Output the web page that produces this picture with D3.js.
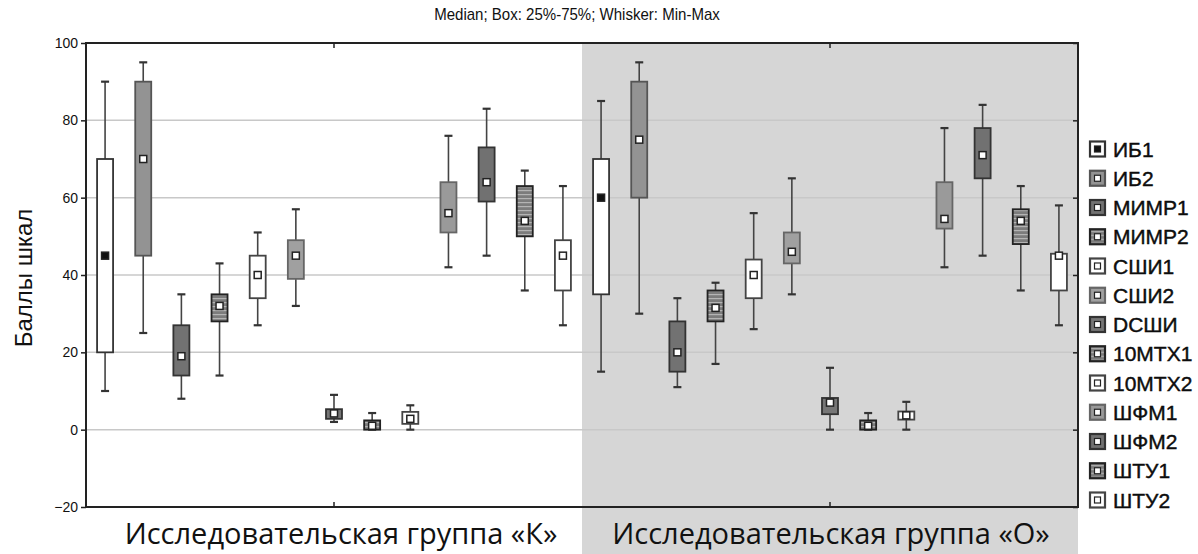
<!DOCTYPE html>
<html>
<head>
<meta charset="utf-8">
<script src="https://cdn.jsdelivr.net/npm/d3@7"></script>
<style>
  body { margin: 0; background: #fff; }
  text { font-family: Arial, "Liberation Sans", sans-serif; fill: #111; }
</style>
</head>
<body>
<script>
const width = 1198, height = 554;
const title = 'Median; Box: 25%-75%; Whisker: Min-Max';
const yAxisLabel = 'Баллы шкал';

const series = ['ИБ1', 'ИБ2', 'МИМР1', 'МИМР2', 'СШИ1', 'СШИ2', 'DCШИ', '10MTX1', '10MTX2', 'ШФМ1', 'ШФМ2', 'ШТУ1', 'ШТУ2'];
const groups = ['Исследовательская группа «К»', 'Исследовательская группа «О»'];
const yTicks = [-20, 0, 20, 40, 60, 80, 100];

// group K
const minK = [10, 25, 8, 14, 27, 32, 2, 0, 0, 42, 45, 36, 27];
const q1K  = [20, 45, 14, 28, 34, 39, 2.8, 0, 1.5, 51, 59, 50, 36];
const medK = [45, 70, 19, 32, 40, 45, 4.2, 1, 2.8, 56, 64, 54, 45];
const q3K  = [70, 90, 27, 35, 45, 49, 5.3, 2.4, 4.6, 64, 73, 63, 49];
const maxK = [90, 95, 35, 43, 51, 57, 9, 4.3, 6.3, 76, 83, 67, 63];

// group O
const minO = [15, 30, 11, 17, 26, 35, 0, 0, 0, 42, 45, 36, 27];
const q1O  = [35, 60, 15, 28, 34, 43, 4, 0, 2.6, 52, 65, 48, 36];
const medO = [60, 75, 20, 31.5, 40, 46, 7, 1, 3.7, 54.5, 71, 54, 45];
const q3O  = [70, 90, 28, 36, 44, 51, 8.2, 2.4, 4.7, 64, 78, 57, 45.5];
const maxO = [85, 95, 34, 38, 56, 65, 16, 4.3, 7.2, 78, 84, 63, 58];

// box looks per series
const boxFill   = ['#ffffff', '#939393', '#727272', 'url(#stripes)', '#ffffff', '#a0a0a0', '#767676', 'url(#stripes)', '#ffffff', '#9a9a9a', '#717171', 'url(#stripes)', '#ffffff'];
const boxStroke = ['#333', '#555', '#333', '#222', '#444', '#666', '#333', '#222', '#444', '#666', '#333', '#222', '#444'];

const plotLeft = 86, plotRight = 1078, plotTop = 43, plotBottom = 507;

const svg = d3.select('body').append('svg')
    .attr('width', width)
    .attr('height', height);

const defs = svg.append('defs');
const pat = defs.append('pattern')
    .attr('id', 'stripes')
    .attr('width', 4).attr('height', 4)
    .attr('patternUnits', 'userSpaceOnUse');
pat.append('rect').attr('width', 4).attr('height', 4).attr('fill', '#7c7c7c');
pat.append('rect').attr('y', 2).attr('width', 4).attr('height', 1.2).attr('fill', '#b4b4b4');

const yScale = d3.scaleLinear().domain([-20, 100]).range([plotBottom, plotTop]);
const xGroup = d3.scaleBand().domain(groups).range([plotLeft, plotRight]);
const xInner = d3.scaleBand().domain(series).range([0, xGroup.bandwidth()]);

const boxW = 16, capW = 8;

// gray background of the second group
svg.append('rect')
    .attr('x', xGroup(groups[1]))
    .attr('y', plotTop + 1)
    .attr('width', plotRight - xGroup(groups[1]))
    .attr('height', height - plotTop)
    .attr('fill', '#d6d6d6');

// gridlines
svg.append('g').selectAll('line')
    .data(yTicks.filter(d => d > -20 && d < 100))
    .join('line')
    .attr('x1', plotLeft).attr('x2', plotRight)
    .attr('y1', d => yScale(d)).attr('y2', d => yScale(d))
    .attr('stroke', '#c8c8c8')
    .attr('stroke-width', 1.5);

// left axis
svg.append('g')
    .attr('transform', `translate(${plotLeft},0)`)
    .call(d3.axisLeft(yScale).tickValues(yTicks).tickSize(5).tickPadding(3))
    .call(g => g.select('.domain').remove())
    .call(g => g.selectAll('line').attr('stroke', '#222').attr('stroke-width', 1.5))
    .call(g => g.selectAll('text').attr('font-size', 14).attr('fill', '#111'));

// right ticks (inward)
svg.append('g')
    .attr('transform', `translate(${plotRight},0)`)
    .call(d3.axisLeft(yScale).tickValues(yTicks).tickSize(5).tickFormat(''))
    .call(g => g.select('.domain').remove())
    .call(g => g.selectAll('line').attr('stroke', '#222').attr('stroke-width', 1.5));

// frame
svg.append('rect')
    .attr('x', plotLeft).attr('y', plotTop)
    .attr('width', plotRight - plotLeft).attr('height', plotBottom - plotTop)
    .attr('fill', 'none')
    .attr('stroke', '#222')
    .attr('stroke-width', 2);

// group ticks top and bottom
groups.forEach(g => {
    const cx = xGroup(g) + xGroup.bandwidth() / 2;
    svg.append('line').attr('x1', cx).attr('x2', cx).attr('y1', plotTop).attr('y2', plotTop + 5)
        .attr('stroke', '#222').attr('stroke-width', 1.5);
    svg.append('line').attr('x1', cx).attr('x2', cx).attr('y1', plotBottom).attr('y2', plotBottom - 5)
        .attr('stroke', '#222').attr('stroke-width', 1.5);
});

// build box data
const boxData = [];
const groupVals = [[minK, q1K, medK, q3K, maxK], [minO, q1O, medO, q3O, maxO]];
groups.forEach((g, gi) => {
    const [mn, q1, md, q3, mx] = groupVals[gi];
    series.forEach((s, i) => {
        boxData.push({
            group: g, name: s, i: i,
            min: mn[i], q1: q1[i], med: md[i], q3: q3[i], max: mx[i]
        });
    });
});

const cxOf = d => xGroup(d.group) + xInner(d.name) + xInner.bandwidth() / 2;

const box = svg.append('g').selectAll('g')
    .data(boxData)
    .join('g');

// whiskers
box.append('line')
    .attr('x1', cxOf).attr('x2', cxOf)
    .attr('y1', d => yScale(d.max)).attr('y2', d => yScale(d.min))
    .attr('stroke', '#444').attr('stroke-width', 1.6);
box.append('line')
    .attr('x1', d => cxOf(d) - capW / 2).attr('x2', d => cxOf(d) + capW / 2)
    .attr('y1', d => yScale(d.max)).attr('y2', d => yScale(d.max))
    .attr('stroke', '#333').attr('stroke-width', 2.2);
box.append('line')
    .attr('x1', d => cxOf(d) - capW / 2).attr('x2', d => cxOf(d) + capW / 2)
    .attr('y1', d => yScale(d.min)).attr('y2', d => yScale(d.min))
    .attr('stroke', '#333').attr('stroke-width', 2.2);

// boxes
box.append('rect')
    .attr('x', d => cxOf(d) - boxW / 2)
    .attr('y', d => yScale(d.q3))
    .attr('width', boxW)
    .attr('height', d => Math.max(yScale(d.q1) - yScale(d.q3), 2))
    .attr('fill', d => boxFill[d.i])
    .attr('stroke', d => boxStroke[d.i])
    .attr('stroke-width', 1.8);

// median markers
box.append('rect')
    .attr('x', d => cxOf(d) - 3.5)
    .attr('y', d => yScale(d.med) - 3.5)
    .attr('width', 7).attr('height', 7)
    .attr('fill', d => d.i === 0 ? '#111' : '#fff')
    .attr('stroke', '#222')
    .attr('stroke-width', 1.5);

// title
svg.append('text')
    .attr('x', 577).attr('y', 20)
    .attr('text-anchor', 'middle')
    .attr('font-size', 16)
    .attr('transform', 'translate(577,0) scale(0.94,1) translate(-577,0)')
    .text(title);

// y label
svg.append('text')
    .attr('transform', `translate(32,278) rotate(-90)`)
    .attr('text-anchor', 'middle')
    .attr('font-size', 24)
    .text(yAxisLabel);

// group labels
svg.append('g').selectAll('text')
    .data(groups)
    .join('text')
    .attr('x', (d, i) => xGroup(d) + xGroup.bandwidth() / 2 + (i === 0 ? 7 : 1))
    .attr('y', 544)
    .attr('text-anchor', 'middle')
    .style('font-family', '"Open Sans", sans-serif')
    .attr('font-size', 29)
    .text(d => d);

// legend
const legend = svg.append('g').selectAll('g')
    .data(series)
    .join('g')
    .attr('transform', (d, i) => `translate(1090,${149 + i * 29.25})`);
legend.append('rect')
    .attr('x', 0).attr('y', -7.5).attr('width', 15).attr('height', 15)
    .attr('fill', (d, i) => boxFill[i])
    .attr('stroke', (d, i) => boxStroke[i])
    .attr('stroke-width', 2.2);
legend.append('rect')
    .attr('x', 4.5).attr('y', -3).attr('width', 6).attr('height', 6)
    .attr('fill', (d, i) => i === 0 ? '#111' : '#fff')
    .attr('stroke', '#222')
    .attr('stroke-width', 1.2);
legend.append('text')
    .attr('x', 23).attr('y', 7.5)
    .attr('font-size', 21)
    .attr('fill', '#000')
    .attr('stroke', '#000')
    .attr('stroke-width', 0.4)
    .text(d => d);
</script>
</body>
</html>
